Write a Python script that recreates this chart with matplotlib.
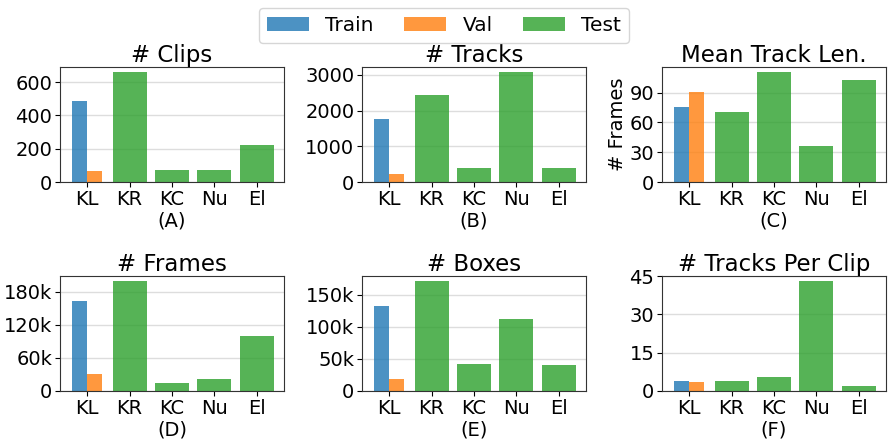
import numpy as np
import matplotlib
matplotlib.use("Agg")
import matplotlib.pyplot as plt
from matplotlib.ticker import FuncFormatter, MultipleLocator

# dataset short names
datasets = ["KL", "KR", "KC", "Nu", "El"]

# per-split statistics (KL has train/val, the rest are test only)
clips_train = [484, 0, 0, 0, 0]
clips_val = [66, 0, 0, 0, 0]
clips_test = [0, 658, 72, 72, 221]

tracks_train = [1755, 0, 0, 0, 0]
tracks_val = [223, 0, 0, 0, 0]
tracks_test = [0, 2423, 390, 3064, 390]

len_train = [75.3, 0, 0, 0, 0]
len_val = [90.3, 0, 0, 0, 0]
len_test = [0, 70.3, 110.4, 36.1, 102.4]

frames_train = [162500, 0, 0, 0, 0]
frames_val = [30700, 0, 0, 0, 0]
frames_test = [0, 198700, 14400, 21700, 99300]

boxes_train = [131900, 0, 0, 0, 0]
boxes_val = [18600, 0, 0, 0, 0]
boxes_test = [0, 170700, 41900, 111700, 40300]

tpc_train = [3.9, 0, 0, 0, 0]
tpc_val = [3.5, 0, 0, 0, 0]
tpc_test = [0, 3.9, 5.46, 42.9, 1.95]

panels = [
    ("# Clips", "(A)", clips_train, clips_val, clips_test, 200, False),
    ("# Tracks", "(B)", tracks_train, tracks_val, tracks_test, 1000, False),
    ("Mean Track Len.", "(C)", len_train, len_val, len_test, 30, False),
    ("# Frames", "(D)", frames_train, frames_val, frames_test, 60000, True),
    ("# Boxes", "(E)", boxes_train, boxes_val, boxes_test, 50000, True),
    ("# Tracks Per Clip", "(F)", tpc_train, tpc_val, tpc_test, 15, False),
]

plt.rcParams["font.family"] = "DejaVu Sans"
fig = plt.figure(figsize=(8.88, 4.41), dpi=100)

lefts = [60, 362, 662]
tops = [67, 276]
w, h = 224, 115

x = np.arange(len(datasets))
handles = None
for i, (title, tag, tr, va, te, step, kfmt) in enumerate(panels):
    r, c = divmod(i, 3)
    ax = fig.add_axes([lefts[c] / 888, 1 - (tops[r] + h) / 441, w / 888, h / 441])
    ax.set_axisbelow(True)
    ax.grid(axis="y", color="#dddddd", linewidth=1)
    b1 = ax.bar(x - 0.175, tr, 0.35, color="tab:blue", alpha=0.8, label="Train")
    b2 = ax.bar(x + 0.175, va, 0.35, color="tab:orange", alpha=0.8, label="Val")
    b3 = ax.bar(x, te, 0.8, color="tab:green", alpha=0.8, label="Test")
    handles = [b1, b2, b3]
    ax.set_xticks(x)
    ax.set_xticklabels(datasets, fontsize=14)
    ax.yaxis.set_major_locator(MultipleLocator(step))
    if kfmt:
        ax.yaxis.set_major_formatter(FuncFormatter(lambda v, p: "0" if v == 0 else f"{int(v / 1000)}k"))
    ax.tick_params(axis="y", labelsize=14)
    ax.tick_params(axis="both", pad=2)
    ax.set_title(title, fontsize=16.5, pad=3)
    ax.set_xlabel(tag, fontsize=14, labelpad=2)
    for s in ax.spines.values():
        s.set_color("#333333")
    if title.startswith("Mean"):
        ax.set_ylabel("# Frames", fontsize=14, labelpad=2)

fig.legend(handles, ["Train", "Val", "Test"], loc="upper center", ncol=3,
           bbox_to_anchor=(0.5, 1.005), fontsize=14.5, handlelength=2.1,
           columnspacing=1.5, frameon=True)

fig.savefig("out.png", dpi=100)
